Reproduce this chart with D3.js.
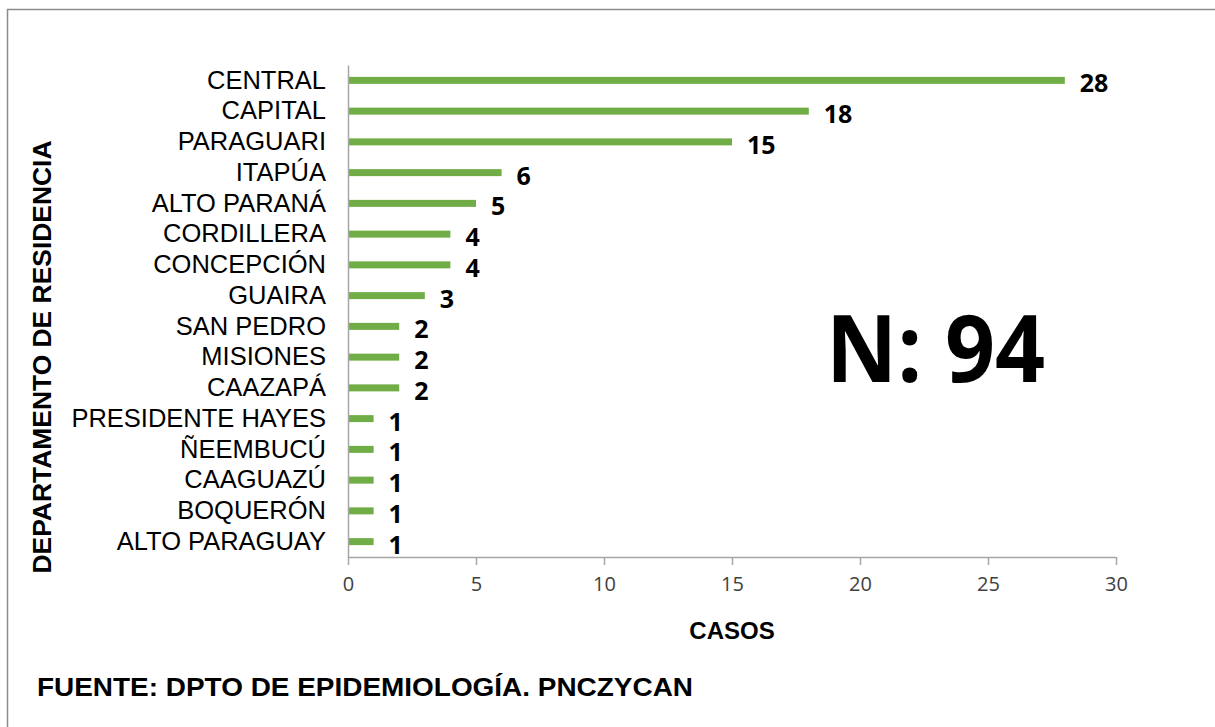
<!DOCTYPE html>
<html>
<head>
<meta charset="utf-8">
<script src="https://cdn.jsdelivr.net/npm/d3@7"></script>
<style>
  body { margin: 0; background: #fff; }
  svg { display: block; }
</style>
</head>
<body>
<div id="chart"></div>
<script>
// data
const departamentos = ["CENTRAL", "CAPITAL", "PARAGUARI", "ITAPÚA", "ALTO PARANÁ", "CORDILLERA",
  "CONCEPCIÓN", "GUAIRA", "SAN PEDRO", "MISIONES", "CAAZAPÁ", "PRESIDENTE HAYES",
  "ÑEEMBUCÚ", "CAAGUAZÚ", "BOQUERÓN", "ALTO PARAGUAY"];
const casos = [28, 18, 15, 6, 5, 4, 4, 3, 2, 2, 2, 1, 1, 1, 1, 1];
const xTicks = [0, 5, 10, 15, 20, 25, 30];
const totalLabel = "N: 94";
const xTitle = "CASOS";
const yTitle = "DEPARTAMENTO DE RESIDENCIA";
const fuente = "FUENTE: DPTO DE EPIDEMIOLOGÍA. PNCZYCAN";

const W = 1215, H = 727;
const plot = { left: 348, right: 1116, top: 65, bottom: 557 };

const svg = d3.select("#chart").append("svg")
  .attr("width", W)
  .attr("height", H);

// outer frame
svg.append("rect")
  .attr("x", 7.5).attr("y", 9.5)
  .attr("width", W + 20).attr("height", H + 20)
  .attr("fill", "none")
  .attr("stroke", "#8c8c8c")
  .attr("stroke-width", 1.5);

const x = d3.scaleLinear().domain([0, 30]).range([plot.left, plot.right]);
const y = d3.scaleBand().domain(departamentos).range([plot.top, plot.bottom]);

const rows = departamentos.map((d, i) => ({ name: d, value: casos[i] }));

// bars
svg.selectAll(".bar")
  .data(rows)
  .enter()
  .append("rect")
  .attr("class", "bar")
  .attr("x", x(0))
  .attr("y", d => y(d.name) + y.bandwidth() / 2 - 3.5)
  .attr("width", d => x(d.value) - x(0))
  .attr("height", 7)
  .attr("fill", "#70ad47");

// value labels
svg.selectAll(".val")
  .data(rows)
  .enter()
  .append("text")
  .attr("class", "val")
  .attr("x", d => x(d.value) + 15)
  .attr("y", d => y(d.name) + y.bandwidth() / 2 + 12)
  .style("font-family", "'Open Sans', sans-serif")
  .style("font-weight", "bold")
  .style("font-size", "25px")
  .attr("fill", "#000")
  .text(d => d.value);

// x axis
const xAxis = svg.append("g")
  .attr("transform", `translate(0,${plot.bottom})`)
  .call(d3.axisBottom(x).tickValues(xTicks).tickSize(8).tickPadding(12).tickSizeOuter(0));
xAxis.select(".domain").attr("stroke", "#a6a6a6").attr("stroke-width", 1.5);
xAxis.selectAll(".tick line").attr("stroke", "#a6a6a6").attr("stroke-width", 1.5);
xAxis.selectAll(".tick text")
  .style("font-family", "'Open Sans', sans-serif")
  .style("font-size", "20px")
  .attr("fill", "#404040");

// y axis
const yAxis = svg.append("g")
  .attr("transform", `translate(${plot.left},0)`)
  .call(d3.axisLeft(y).tickSize(0).tickPadding(22));
yAxis.select(".domain").attr("stroke", "#a6a6a6").attr("stroke-width", 1.5);
yAxis.selectAll(".tick text")
  .style("font-family", "'Liberation Sans', Arial, sans-serif")
  .style("font-size", "25.5px")
  .attr("fill", "#000");

// axis titles
svg.append("text")
  .attr("x", 732).attr("y", 639)
  .attr("text-anchor", "middle")
  .style("font-family", "'Liberation Sans', Arial, sans-serif")
  .style("font-weight", "bold")
  .style("font-size", "24px")
  .text(xTitle);

svg.append("text")
  .attr("transform", "translate(51,357) rotate(-90)")
  .attr("text-anchor", "middle")
  .attr("textLength", 433)
  .attr("lengthAdjust", "spacingAndGlyphs")
  .style("font-family", "'Liberation Sans', Arial, sans-serif")
  .style("font-weight", "bold")
  .style("font-size", "25px")
  .text(yTitle);

// total
svg.append("text")
  .attr("x", 826).attr("y", 382)
  .attr("textLength", 219)
  .attr("lengthAdjust", "spacingAndGlyphs")
  .style("font-family", "'Open Sans', sans-serif")
  .style("font-weight", "bold")
  .style("font-size", "94px")
  .text(totalLabel);

// source note
svg.append("text")
  .attr("x", 37).attr("y", 696)
  .attr("textLength", 656)
  .attr("lengthAdjust", "spacingAndGlyphs")
  .style("font-family", "'Liberation Sans', Arial, sans-serif")
  .style("font-weight", "bold")
  .style("font-size", "25px")
  .text(fuente);
</script>
</body>
</html>
